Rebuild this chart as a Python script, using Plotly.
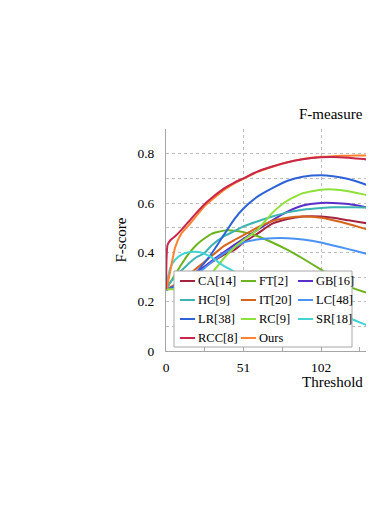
import plotly.graph_objects as go

# threshold values (x axis), only the visible part of the chart
threshold = [0, 1, 3, 6, 10, 15, 20, 25, 30, 38, 45, 51, 60, 70, 80, 90, 102, 110, 120, 130, 138]

# F-score per method
ca = [0.25, 0.25, 0.255, 0.265, 0.28, 0.30, 0.32, 0.34, 0.36, 0.39, 0.41, 0.44, 0.475, 0.516, 0.535, 0.545, 0.545, 0.54, 0.53, 0.52, 0.512]
ft = [0.25, 0.26, 0.28, 0.31, 0.35, 0.395, 0.43, 0.455, 0.475, 0.488, 0.488, 0.482, 0.466, 0.44, 0.41, 0.375, 0.33, 0.30, 0.262, 0.24, 0.225]
gb = [0.25, 0.25, 0.255, 0.265, 0.28, 0.30, 0.32, 0.34, 0.365, 0.40, 0.43, 0.455, 0.49, 0.53, 0.565, 0.59, 0.60, 0.60, 0.596, 0.585, 0.573]
hc = [0.25, 0.26, 0.28, 0.30, 0.325, 0.355, 0.38, 0.395, 0.428, 0.465, 0.486, 0.505, 0.525, 0.545, 0.562, 0.573, 0.58, 0.583, 0.583, 0.582, 0.58]
it = [0.25, 0.25, 0.26, 0.27, 0.29, 0.31, 0.335, 0.36, 0.385, 0.425, 0.45, 0.47, 0.50, 0.527, 0.54, 0.545, 0.54, 0.53, 0.515, 0.497, 0.48]
lc = [0.25, 0.25, 0.255, 0.26, 0.27, 0.29, 0.31, 0.335, 0.36, 0.395, 0.42, 0.44, 0.452, 0.457, 0.457, 0.452, 0.44, 0.428, 0.413, 0.397, 0.385]
lr = [0.25, 0.25, 0.255, 0.265, 0.28, 0.30, 0.32, 0.355, 0.395, 0.47, 0.535, 0.578, 0.625, 0.66, 0.69, 0.706, 0.712, 0.708, 0.697, 0.678, 0.658]
rc = [0.25, 0.25, 0.25, 0.25, 0.25, 0.255, 0.265, 0.285, 0.315, 0.375, 0.42, 0.45, 0.49, 0.56, 0.61, 0.64, 0.654, 0.655, 0.648, 0.635, 0.62]
sr = [0.25, 0.29, 0.34, 0.37, 0.39, 0.40, 0.402, 0.395, 0.38, 0.345, 0.322, 0.30, 0.275, 0.245, 0.22, 0.195, 0.17, 0.155, 0.135, 0.11, 0.09]
rcc = [0.25, 0.43, 0.45, 0.465, 0.49, 0.525, 0.56, 0.593, 0.62, 0.658, 0.683, 0.70, 0.727, 0.748, 0.765, 0.777, 0.785, 0.786, 0.783, 0.778, 0.772]
ours = [0.25, 0.27, 0.33, 0.42, 0.475, 0.51, 0.548, 0.585, 0.612, 0.652, 0.68, 0.698, 0.725, 0.747, 0.765, 0.778, 0.787, 0.79, 0.792, 0.793, 0.792]

names = ["CA[14]", "FT[2]", "GB[16]", "HC[9]", "IT[20]", "LC[48]",
         "LR[38]", "RC[9]", "SR[18]", "RCC[8]", "Ours"]
series = [ca, ft, gb, hc, it, lc, lr, rc, sr, rcc, ours]
colors = ["#A3223F", "#6BB41E", "#5A2FC8", "#3DB3B3", "#D5641C", "#4A93F2",
          "#2E63D8", "#8EE03A", "#43D3D3", "#C8264B", "#FF822E"]

FONT = "Liberation Serif, Times New Roman, serif"

fig = go.Figure()

# draw order: Ours below RCC
order = [0, 1, 2, 3, 4, 5, 6, 7, 8, 10, 9]
for i in order:
    fig.add_trace(go.Scatter(
        x=threshold, y=series[i], mode="lines", name=names[i],
        line=dict(color=colors[i], width=2, shape="spline", smoothing=0.5),
        showlegend=False
    ))

# page has an 8px body margin on every side -> figure sits in 8..366 x 8..522
OFF = 8
FW, FH = 374 - 2 * OFF, 530 - 2 * OFF

# plot area in page pixels: x 166..366, y 129..351  (51 thresholds = 77.5 px)
L, R, T, B = 166, 366, 129, 351
W, H = R - L, B - T
x_max = (R - L) / 77.5 * 51

def px(x):
    return (x - L) / W

def py(y):
    return (B - y) / H

# hand made legend (3 columns x 4 rows)
fig.add_shape(type="rect", xref="paper", yref="paper",
              x0=px(174), x1=px(352), y0=py(347), y1=py(271),
              line=dict(color="#A6A6A6", width=1), fillcolor="white", layer="above")

col_x = [180, 241, 298]
row_y = [281, 300, 319, 338]
for k, name in enumerate(names):
    r, c = divmod(k, 3)
    x0 = col_x[c]
    y0 = row_y[r]
    fig.add_shape(type="line", xref="paper", yref="paper",
                  x0=px(x0), x1=px(x0 + 15), y0=py(y0), y1=py(y0),
                  line=dict(color=colors[k], width=2), layer="above")
    fig.add_annotation(x=px(x0 + 16), y=py(y0), xref="paper", yref="paper",
                       text=name, showarrow=False, xanchor="left", yanchor="middle",
                       font=dict(family=FONT, size=12.5, color="black"))

# title and x axis title sit at the right edge
fig.add_annotation(x=px(365), y=py(114), xref="paper", yref="paper",
                   text="F-measure", showarrow=False, xanchor="right", yanchor="middle",
                   font=dict(family=FONT, size=15, color="black"))
fig.add_annotation(x=px(365), y=py(382), xref="paper", yref="paper",
                   text="Threshold", showarrow=False, xanchor="right", yanchor="middle",
                   font=dict(family=FONT, size=15, color="black"))

fig.update_layout(
    width=FW, height=FH,
    margin=dict(l=L - OFF, r=FW - (R - OFF), t=T - OFF, b=FH - (B - OFF)),
    paper_bgcolor="white", plot_bgcolor="white",
    font=dict(family=FONT, size=13.5, color="black"),
    xaxis=dict(
        range=[0, x_max], tickvals=[0, 51, 102, 153, 204, 255],
        showgrid=True, gridcolor="#BDBDBD", griddash="dot", gridwidth=1,
        showline=True, linecolor="#A6A6A6", linewidth=1,
        ticks="inside", ticklen=4, tickcolor="#A6A6A6",
        minor=dict(dtick=25.5, ticks="inside", ticklen=4, tickcolor="#A6A6A6", showgrid=False),
        zeroline=False, ticklabelstandoff=4
    ),
    yaxis=dict(
        range=[0, 0.9], tickvals=[0, 0.2, 0.4, 0.6, 0.8], ticktext=["0", "0.2", "0.4", "0.6", "0.8"],
        showgrid=True, gridcolor="#BDBDBD", griddash="dot", gridwidth=1,
        minor=dict(dtick=0.1, showgrid=True, gridcolor="#BDBDBD", griddash="dot", gridwidth=1),
        showline=True, linecolor="#A6A6A6", linewidth=1,
        ticks="", zeroline=False, ticklabelstandoff=8,
        title=dict(text="F-score", font=dict(family=FONT, size=15), standoff=7)
    ),
)

fig.write_html("out.html")
